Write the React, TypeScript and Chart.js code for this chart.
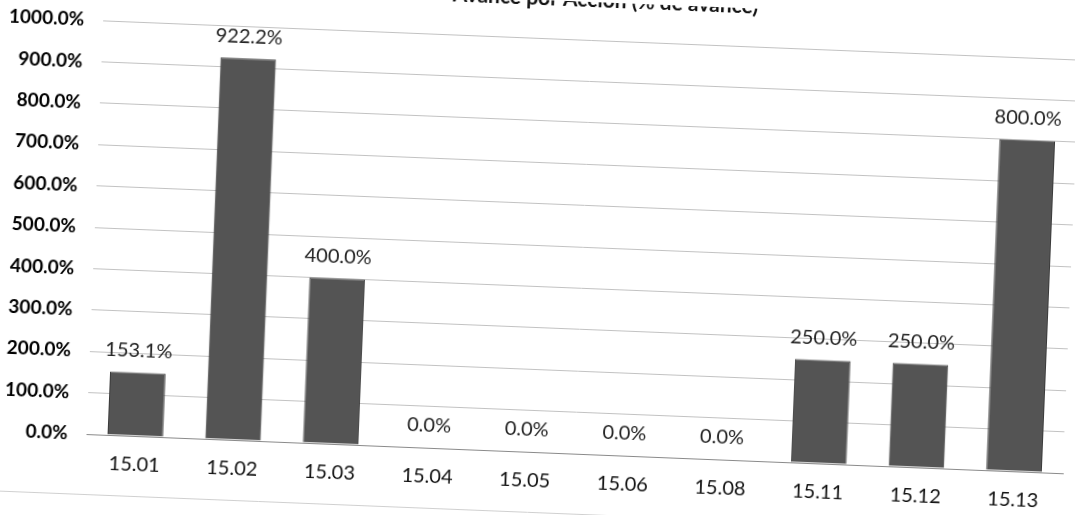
import React, { useEffect, useRef } from "react";
import { Chart, registerables } from "chart.js";

Chart.register(...registerables);

const categories = ["15.01", "15.02", "15.03", "15.04", "15.05", "15.06", "15.08", "15.11", "15.12", "15.13"];
const avance = [153.1, 922.2, 400.0, 0.0, 0.0, 0.0, 0.0, 250.0, 250.0, 800.0];
const titleText = "Avance por Acción (% de avance)";
const yMin = 0;
const yMax = 1000;
const yStep = 100;

const valueLabels = {
  id: "valueLabels",
  afterDatasetsDraw(chart: any) {
    const ctx = chart.ctx;
    const meta = chart.getDatasetMeta(0);
    ctx.save();
    ctx.font = "20px Lato";
    ctx.fillStyle = "#222222";
    ctx.textAlign = "center";
    ctx.textBaseline = "bottom";
    meta.data.forEach((el: any, i: number) => {
      const v = chart.data.datasets[0].data[i] as number;
      ctx.fillText(v.toFixed(1) + "%", el.x, el.y - 12);
    });
    ctx.restore();
  },
};

const titleAndFrame = {
  id: "titleAndFrame",
  afterDraw(chart: any) {
    const ctx = chart.ctx;
    ctx.save();
    ctx.font = "bold 21px Lato";
    ctx.fillStyle = "#111111";
    ctx.textAlign = "right";
    ctx.textBaseline = "alphabetic";
    ctx.fillText(titleText, 748, 4.5);
    ctx.strokeStyle = "#d0d0d0";
    ctx.lineWidth = 1;
    ctx.beginPath();
    ctx.moveTo(0, 512.5);
    ctx.lineTo(chart.width, 512.5);
    ctx.stroke();
    ctx.restore();
  },
};

export default function App() {
  const ref = useRef<HTMLCanvasElement | null>(null);

  useEffect(() => {
    document.body.style.margin = "0";
    document.body.style.overflow = "hidden";
    const chart = new Chart(ref.current as HTMLCanvasElement, {
      type: "bar",
      data: {
        labels: categories,
        datasets: [
          {
            data: avance,
            backgroundColor: "#545454",
            borderColor: "#3a3a3a",
            borderWidth: 1,
            barPercentage: 0.57,
            categoryPercentage: 1.0,
          },
        ],
      },
      options: {
        animation: false,
        responsive: true,
        maintainAspectRatio: false,
        layout: { padding: { top: 38, right: 4, bottom: 0, left: 0 } },
        plugins: {
          legend: { display: false },
          title: { display: false },
          tooltip: { enabled: false },
        },
        scales: {
          x: {
            grid: { display: false, drawTicks: false },
            border: { display: true, color: "#8a8a8a", width: 1 },
            ticks: {
              color: "#111111",
              font: { family: "Lato", size: 20 },
              padding: 17,
              maxRotation: 0,
            },
            afterFit(scale: any) {
              scale.height = 63;
            },
          },
          y: {
            min: yMin,
            max: yMax,
            grid: {
              color: "#c2c2c2",
              lineWidth: 1,
              drawTicks: false,
            },
            border: { display: false },
            ticks: {
              stepSize: yStep,
              color: "#000000",
              font: { family: "Lato", size: 19, weight: "bold" },
              padding: 19,
              callback: (v: any) => Number(v).toFixed(1) + "%",
            },
            afterFit(scale: any) {
              scale.width = 94;
            },
          },
        },
      },
      plugins: [valueLabels, titleAndFrame],
    });
    return () => chart.destroy();
  }, []);

  return (
    <div
      style={{
        width: 1075,
        height: 515,
        position: "relative",
        transform: "rotate(2.3deg)",
        transformOrigin: "50% 50%",
        background: "#ffffff",
      }}
    >
      <canvas ref={ref} />
    </div>
  );
}
